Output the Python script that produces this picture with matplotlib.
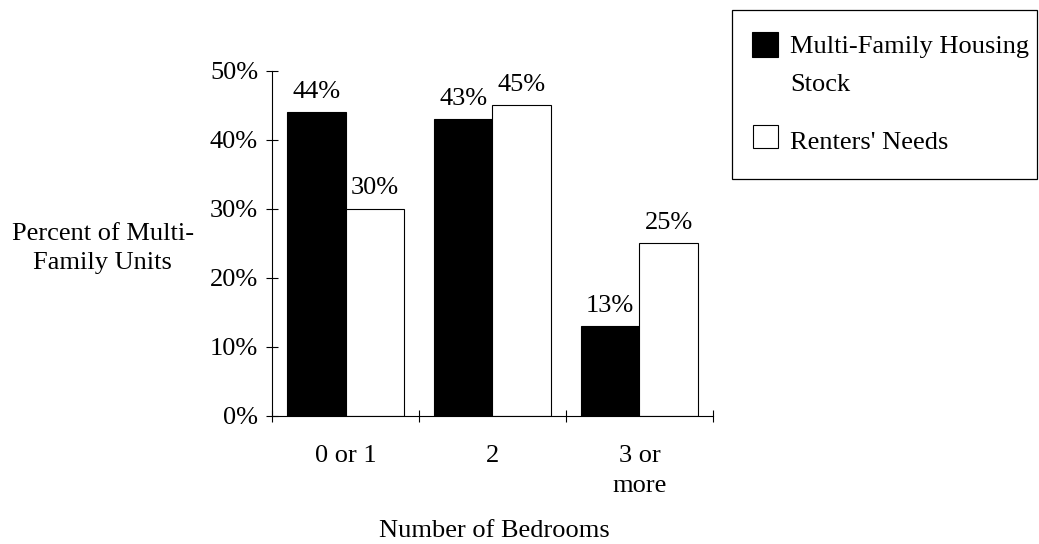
import matplotlib
matplotlib.use("Agg")
import matplotlib.pyplot as plt
from matplotlib.patches import Rectangle
import numpy as np

plt.rcParams['font.family'] = ['Liberation Serif', 'DejaVu Serif']
FS = 19

categories = ["0 or 1", "2", "3 or\nmore"]
series_names = ["Multi-Family Housing\nStock", "Renters' Needs"]
housing_stock = [44, 43, 13]
renters_needs = [30, 45, 25]

fig = plt.figure(figsize=(10.39, 5.44), dpi=100)
ax = fig.add_axes([0.2618, 0.2353, 0.4244, 0.6342])

x = np.arange(len(categories))
w = 0.4
b1 = ax.bar(x - w / 2, housing_stock, w, color='black', edgecolor='black', linewidth=0.8)
b2 = ax.bar(x + w / 2, renters_needs, w, color='white', edgecolor='black', linewidth=0.8)

for bars, vals in ((b1, housing_stock), (b2, renters_needs)):
    for rect, v in zip(bars, vals):
        ax.annotate("%d%%" % v, (rect.get_x() + rect.get_width() / 2, v),
                    xytext=(0, 10.5), textcoords='offset points',
                    ha='center', va='baseline', fontsize=FS)

ax.set_xlim(-0.5, 2.5)
ax.set_ylim(0, 50)
ax.set_yticks(np.arange(0, 51, 10))
ax.set_yticklabels(["%d%%" % t for t in range(0, 51, 10)], fontsize=FS)
ax.tick_params(axis='y', direction='inout', length=8, width=0.8, pad=6)

# ticks sit between the groups, labels under the group centres
ax.set_xticks([-0.5, 0.5, 1.5, 2.5])
ax.set_xticklabels([])
ax.set_xticks(x, minor=True)
ax.set_xticklabels(categories, minor=True, fontsize=FS, va='top', linespacing=1.45)
ax.tick_params(axis='x', which='major', direction='inout', length=8, width=0.8)
ax.tick_params(axis='x', which='minor', length=0, pad=21)

for side in ('top', 'right'):
    ax.spines[side].set_visible(False)
ax.spines['left'].set_linewidth(0.8)
ax.spines['bottom'].set_linewidth(0.8)

fig.text(0.099, 0.543, "Percent of Multi-\nFamily Units", ha='center', va='center',
         fontsize=FS, linespacing=1.45)
fig.text(0.4755, 0.012, "Number of Bedrooms", ha='center', va='baseline', fontsize=FS)

# legend box drawn by hand so the swatch lines up with the first text line
fig.patches.append(Rectangle((0.7045, 0.671), 0.2936, 0.3107, transform=fig.transFigure,
                             facecolor='white', edgecolor='black', linewidth=0.9))
fig.patches.append(Rectangle((0.7238, 0.8952), 0.025, 0.046, transform=fig.transFigure,
                             facecolor='black', edgecolor='black', linewidth=0.8))
fig.patches.append(Rectangle((0.7247, 0.7279), 0.0241, 0.0423, transform=fig.transFigure,
                             facecolor='white', edgecolor='black', linewidth=0.8))
first, second = series_names[0].split("\n")
fig.text(0.7603, 0.9026, first, ha='left', va='baseline', fontsize=FS)
fig.text(0.7603, 0.8327, second, ha='left', va='baseline', fontsize=FS)
fig.text(0.7603, 0.7261, series_names[1], ha='left', va='baseline', fontsize=FS)

fig.savefig("out.png", dpi=100)
